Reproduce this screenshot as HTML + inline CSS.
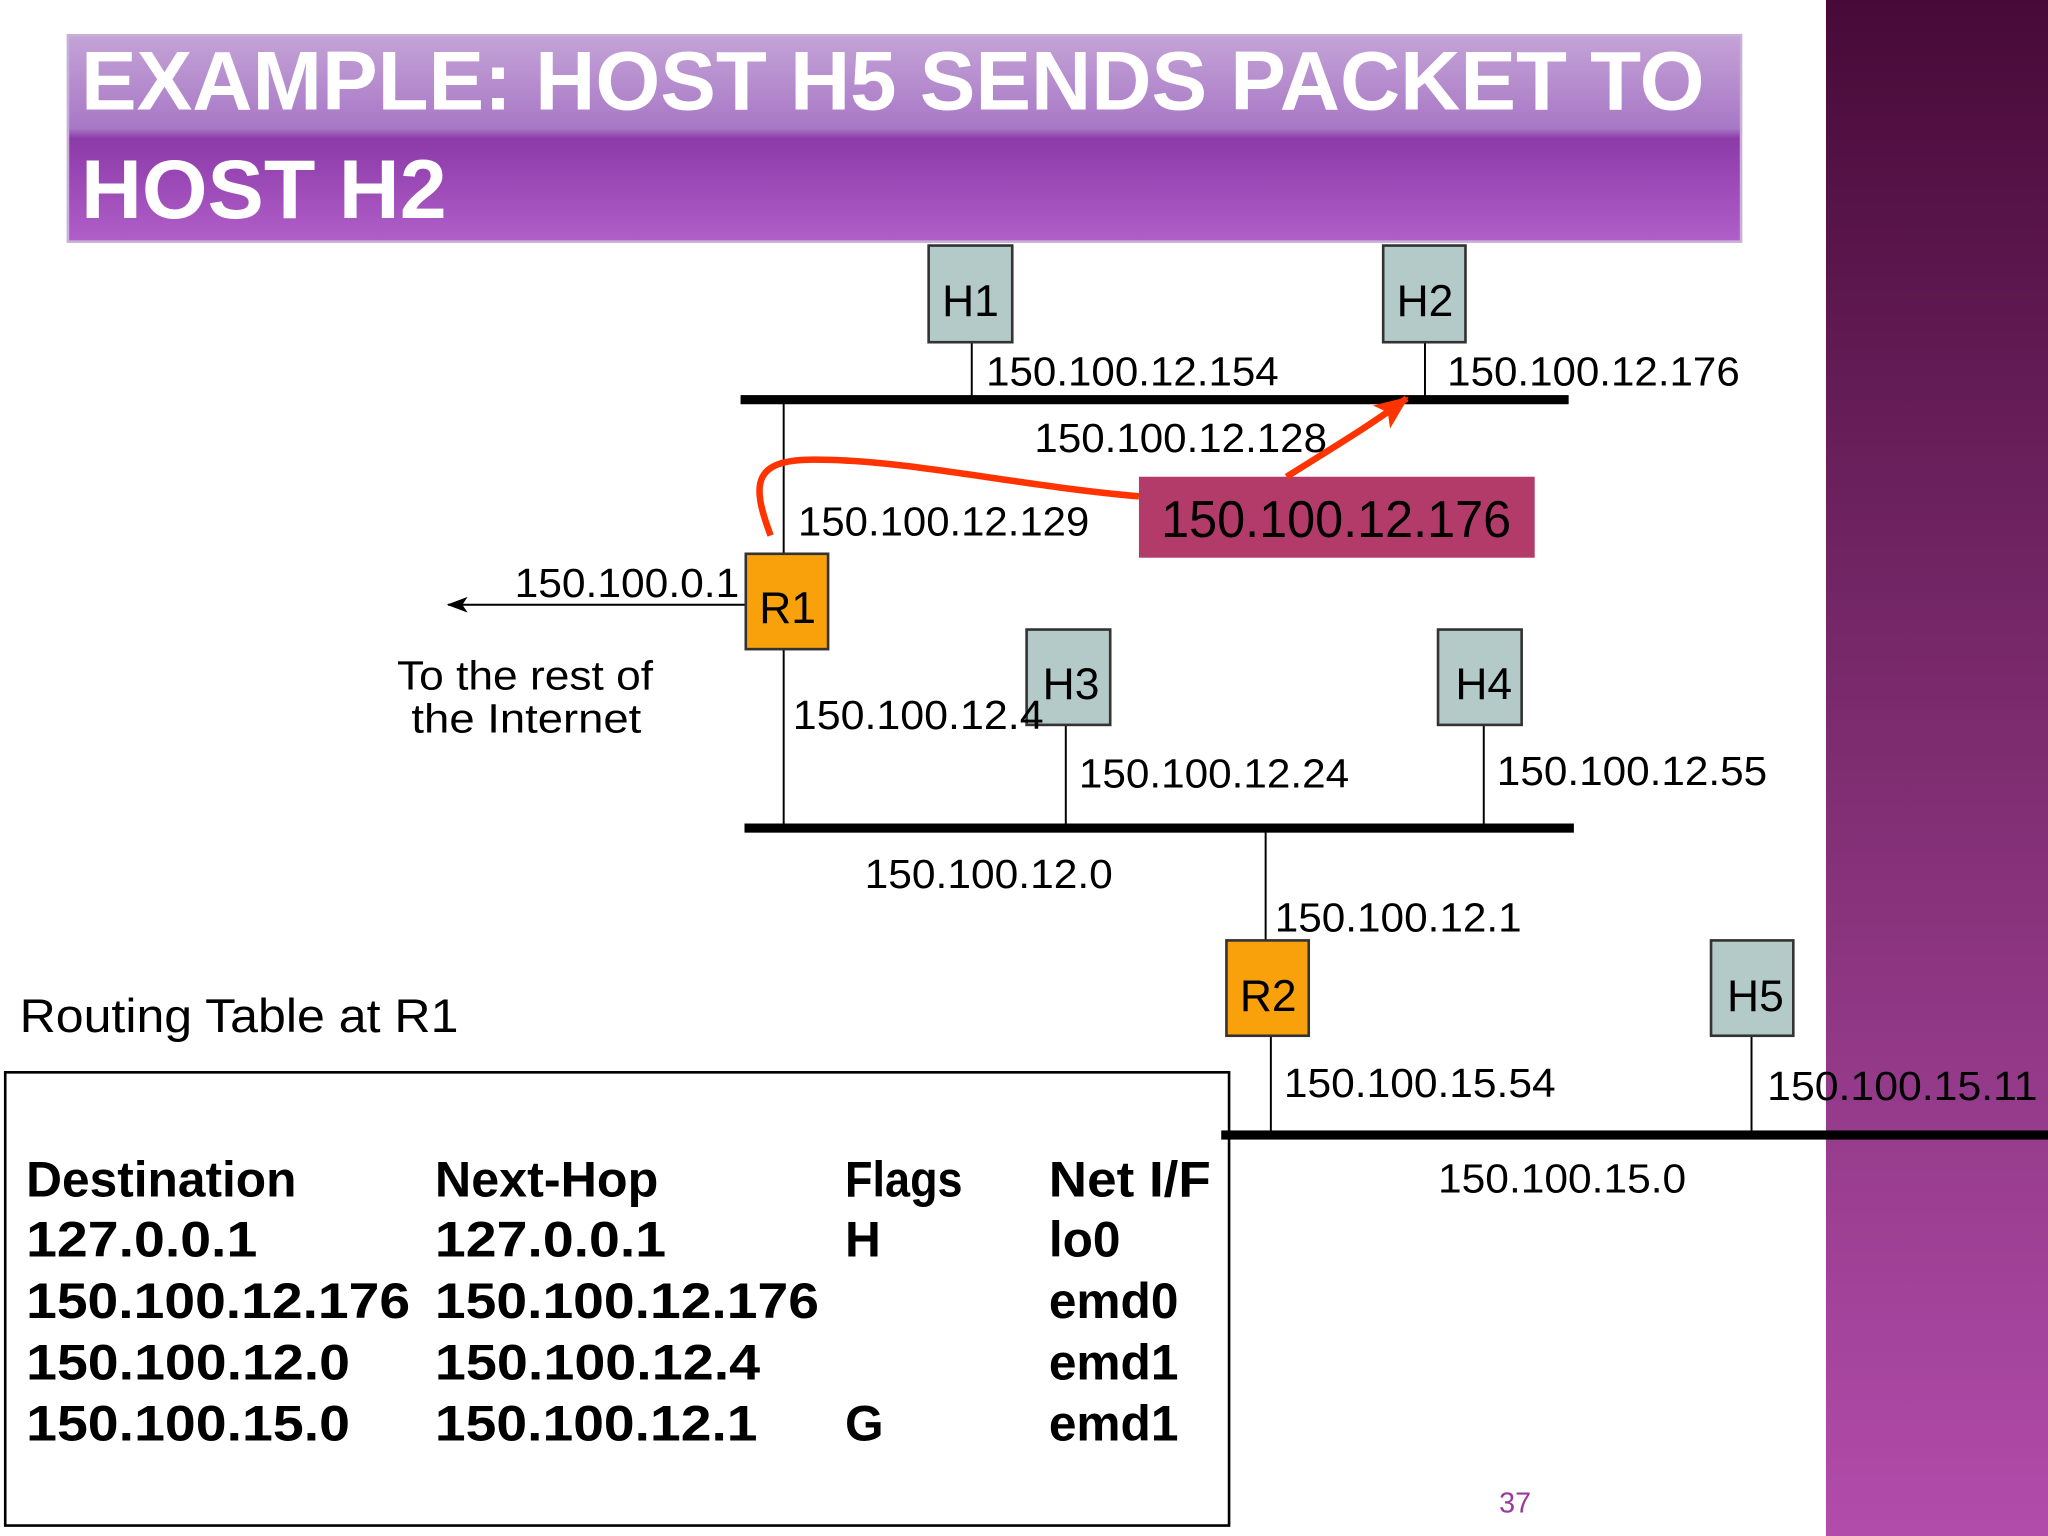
<!DOCTYPE html>
<html><head><meta charset="utf-8"><style>
html,body{margin:0;padding:0;background:#fff;}
svg{display:block;}
text{font-family:"Liberation Sans",sans-serif;}
</style></head><body>
<svg width="2048" height="1536" viewBox="0 0 1568 1176" xmlns="http://www.w3.org/2000/svg">
<defs>
<linearGradient id="band" x1="0" y1="0" x2="0" y2="1">
<stop offset="0" stop-color="#470a38"/><stop offset="0.45" stop-color="#7a2a6c"/><stop offset="1" stop-color="#b24cab"/>
</linearGradient>
<linearGradient id="title" x1="0" y1="0" x2="0" y2="1">
<stop offset="0" stop-color="#c4a3d6"/><stop offset="0.45" stop-color="#a878c6"/><stop offset="0.5" stop-color="#8c3aa8"/><stop offset="1" stop-color="#b05ec8"/>
</linearGradient>
<marker id="ah" markerWidth="16" markerHeight="12" refX="15" refY="6" orient="auto" markerUnits="userSpaceOnUse"><path d="M0,0 L16,6 L0,12 L4,6 Z" fill="#000"/></marker>
<marker id="rh" markerWidth="26" markerHeight="22" refX="24" refY="11" orient="auto" markerUnits="userSpaceOnUse"><path d="M0,0 L26,11 L0,22 L6,11 Z" fill="#ff3300"/></marker>
</defs>
<rect x="0" y="0" width="1568" height="1176" fill="#fff"/>
<rect x="1398" y="0" width="170" height="1176" fill="url(#band)"/>
<rect x="52" y="27" width="1281" height="158" fill="url(#title)" stroke="#c9b0d8" stroke-width="2"/>
<text x="62" y="84" font-size="64" font-weight="bold" fill="#fff" textLength="1243" lengthAdjust="spacingAndGlyphs">EXAMPLE:  HOST H5 SENDS PACKET TO</text>
<text x="62" y="167" font-size="64" font-weight="bold" fill="#fff" textLength="280" lengthAdjust="spacingAndGlyphs">HOST H2</text>

<g stroke="#000" stroke-width="1.5">
<line x1="744" y1="262" x2="744" y2="306"/>
<line x1="1091" y1="262" x2="1091" y2="306"/>
<line x1="600" y1="306" x2="600" y2="424"/>
<line x1="600" y1="497" x2="600" y2="634"/>
<line x1="816" y1="555" x2="816" y2="634"/>
<line x1="1136" y1="555" x2="1136" y2="634"/>
<line x1="969" y1="634" x2="969" y2="720"/>
<line x1="973" y1="793" x2="973" y2="869"/>
<line x1="1341" y1="793" x2="1341" y2="869"/>
<line x1="571" y1="463" x2="343" y2="463" marker-end="url(#ah)"/>
</g>
<rect x="567" y="302.5" width="634" height="7" fill="#000"/>
<rect x="570" y="630.5" width="635" height="7" fill="#000"/>
<rect x="935" y="865.5" width="633" height="7" fill="#000"/>

<g stroke="#333" stroke-width="2">
<rect x="711" y="188" width="64" height="74" fill="#b3cac8"/>
<rect x="1059" y="188" width="63" height="74" fill="#b3cac8"/>
<rect x="786" y="482" width="64" height="73" fill="#b3cac8"/>
<rect x="1101" y="482" width="64" height="73" fill="#b3cac8"/>
<rect x="1310" y="720" width="63" height="73" fill="#b3cac8"/>
<rect x="571" y="424" width="63" height="73" fill="#f9a10a"/>
<rect x="939" y="720" width="63" height="73" fill="#f9a10a"/>
</g>
<g font-size="34" text-anchor="middle" fill="#000">
<text x="743" y="242">H1</text><text x="1091" y="242">H2</text>
<text x="820" y="535">H3</text><text x="1136" y="535">H4</text>
<text x="1344" y="774">H5</text><text x="603" y="477">R1</text><text x="971" y="774">R2</text>
</g>

<rect x="872" y="365" width="303" height="62" fill="#b33b69"/>
<text x="889" y="411" font-size="40" textLength="268" lengthAdjust="spacingAndGlyphs">150.100.12.176</text>

<path d="M590,410 C575,370 575,350 630,352 C700,353 780,372 872,380" fill="none" stroke="#ff3300" stroke-width="5"/>
<path d="M985,365 C1025,340 1050,325 1077,305" fill="none" stroke="#ff3300" stroke-width="5" marker-end="url(#rh)"/>

<g font-size="31" fill="#000">
<text x="755" y="295" textLength="224" lengthAdjust="spacingAndGlyphs">150.100.12.154</text>
<text x="1108" y="295" textLength="224" lengthAdjust="spacingAndGlyphs">150.100.12.176</text>
<text x="792" y="346" textLength="224" lengthAdjust="spacingAndGlyphs">150.100.12.128</text>
<text x="611" y="410" textLength="223" lengthAdjust="spacingAndGlyphs">150.100.12.129</text>
<text x="394" y="457" textLength="172" lengthAdjust="spacingAndGlyphs">150.100.0.1</text>
<text x="304" y="528" textLength="196" lengthAdjust="spacingAndGlyphs">To the rest of</text>
<text x="315" y="561" textLength="176" lengthAdjust="spacingAndGlyphs">the Internet</text>
<text x="607" y="558" textLength="192" lengthAdjust="spacingAndGlyphs">150.100.12.4</text>
<text x="826" y="603" textLength="207" lengthAdjust="spacingAndGlyphs">150.100.12.24</text>
<text x="1146" y="601" textLength="207" lengthAdjust="spacingAndGlyphs">150.100.12.55</text>
<text x="662" y="680" textLength="190" lengthAdjust="spacingAndGlyphs">150.100.12.0</text>
<text x="976" y="713" textLength="189" lengthAdjust="spacingAndGlyphs">150.100.12.1</text>
<text x="983" y="840" textLength="208" lengthAdjust="spacingAndGlyphs">150.100.15.54</text>
<text x="1353" y="842" textLength="207" lengthAdjust="spacingAndGlyphs">150.100.15.11</text>
<text x="1101" y="913" textLength="190" lengthAdjust="spacingAndGlyphs">150.100.15.0</text>
</g>
<text x="15" y="790" font-size="36" textLength="336" lengthAdjust="spacingAndGlyphs">Routing Table at R1</text>

<rect x="4" y="821" width="937" height="347" fill="none" stroke="#000" stroke-width="2"/>
<g font-size="38" font-weight="bold" fill="#000">
<text x="20" y="916" textLength="207" lengthAdjust="spacingAndGlyphs">Destination</text><text x="333" y="916" textLength="171" lengthAdjust="spacingAndGlyphs">Next-Hop</text><text x="647" y="916" textLength="90" lengthAdjust="spacingAndGlyphs">Flags</text><text x="803" y="916" textLength="124" lengthAdjust="spacingAndGlyphs">Net I/F</text>
<text x="20" y="962" textLength="177" lengthAdjust="spacingAndGlyphs">127.0.0.1</text><text x="333" y="962" textLength="177" lengthAdjust="spacingAndGlyphs">127.0.0.1</text><text x="647" y="962">H</text><text x="803" y="962">lo0</text>
<text x="20" y="1009" textLength="294" lengthAdjust="spacingAndGlyphs">150.100.12.176</text><text x="333" y="1009" textLength="294" lengthAdjust="spacingAndGlyphs">150.100.12.176</text><text x="803" y="1009">emd0</text>
<text x="20" y="1056" textLength="248" lengthAdjust="spacingAndGlyphs">150.100.12.0</text><text x="333" y="1056" textLength="249" lengthAdjust="spacingAndGlyphs">150.100.12.4</text><text x="803" y="1056">emd1</text>
<text x="20" y="1103" textLength="248" lengthAdjust="spacingAndGlyphs">150.100.15.0</text><text x="333" y="1103" textLength="247" lengthAdjust="spacingAndGlyphs">150.100.12.1</text><text x="647" y="1103">G</text><text x="803" y="1103">emd1</text>
</g>
<text x="1160" y="1158" font-size="22" fill="#9b3a9b" text-anchor="middle">37</text>
</svg>
</body></html>
